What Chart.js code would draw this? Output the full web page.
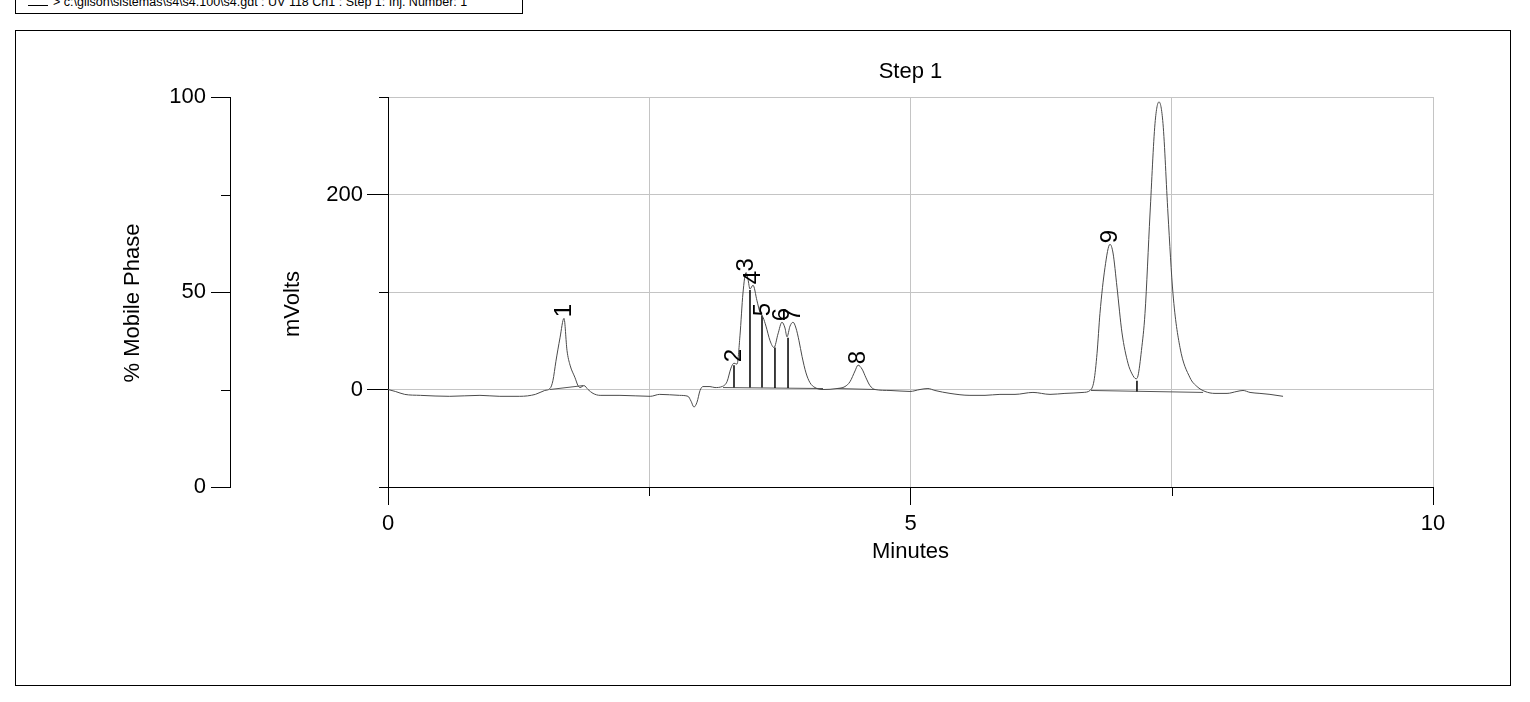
<!DOCTYPE html>
<html><head><meta charset="utf-8">
<script src="https://cdn.jsdelivr.net/npm/chart.js@4.4.0/dist/chart.umd.min.js"></script>
<style>
html,body{margin:0;padding:0;background:#fff;width:1530px;height:702px;overflow:hidden;font-family:'Liberation Sans',Arial,sans-serif;}
#frame{position:absolute;left:15px;top:30px;width:1494px;height:654px;border:1px solid #000;}
#legend{position:absolute;left:15px;top:-10px;width:506px;height:22px;border:1px solid #000;}
#legline{position:absolute;left:28px;top:5px;width:20px;height:0;border-top:1px solid #000;}
#legtext{position:absolute;left:53px;top:-5px;font-size:12.5px;line-height:14px;white-space:nowrap;color:#000;}
#c{position:absolute;left:0;top:0;}
</style></head>
<body>
<div id="frame"></div>
<div id="legend"></div>
<div id="legline"></div>
<div id="legtext">&gt; c:\gilson\sistemas\s4\s4.100\s4.gdt : UV 118 Ch1 : Step 1: Inj. Number: 1</div>
<canvas id="c" width="1530" height="702"></canvas>
<script>
// ---- data ----
const times = [0,0.07,0.16,0.31,0.59,0.88,1.07,1.26,1.41,1.50,1.55,1.578,1.607,1.646,1.684,1.713,1.742,1.790,1.818,1.837,1.876,1.914,1.962,2.03,2.22,2.51,2.60,2.79,2.871,2.90,2.928,2.957,2.986,3.014,3.081,3.129,3.196,3.244,3.282,3.311,3.340,3.368,3.397,3.426,3.445,3.464,3.493,3.531,3.560,3.589,3.617,3.656,3.694,3.732,3.770,3.799,3.818,3.847,3.876,3.904,3.933,3.962,4.000,4.038,4.086,4.163,4.297,4.373,4.421,4.469,4.498,4.536,4.574,4.612,4.660,4.804,4.995,5.091,5.167,5.234,5.378,5.569,5.713,5.856,6.000,6.172,6.335,6.478,6.651,6.718,6.756,6.785,6.813,6.861,6.909,6.938,6.976,7.024,7.081,7.120,7.158,7.177,7.21,7.244,7.292,7.340,7.378,7.416,7.464,7.512,7.579,7.675,7.742,7.818,7.914,8.029,8.124,8.182,8.249,8.344,8.440,8.565];
const mvolts = [0,-2,-5,-6,-7,-6,-7,-7,-5,-1,1,9,29,53,73,40,25,12,4,2,4,0,-4,-6,-6,-7,-5,-6,-7,-12,-18,-13,-1,3,3,2,3,8,22,27,26,55,99,120,113,103,107,91,79,74,65,50,43,57,69,63,54,65,69,63,50,34,17,7,2,0,1,3,8,19,25,21,12,4,0,-1,-2,0,1,-1,-4,-6,-6,-5,-5,-3,-5,-4,-3,-1,9,37,78,125,149,140,105,58,27,16,11,14,40,78,180,273,295,273,180,98,43,12,3,-2,-4,-4,-2,-1,-3,-4,-5,-7];

const peakNames = ['1','2','3','4','5','6','7','8','9'];
const peakTimes = [1.684,3.311,3.426,3.493,3.589,3.770,3.876,4.498,6.909];
const peakHeights = [73,27,120,107,74,69,69,25,149];

const dropTimes = [3.311,3.464,3.579,3.703,3.828,7.167];
const dropTops  = [25,102,76,43,53,9];
const dropBases = [2,2,2,1.5,1.5,-2];

const baseStartT = [1.55,3.206,4.297,6.727];
const baseStartV = [0,2,1,-1];
const baseEndT   = [1.866,4.163,4.66,7.80];
const baseEndV   = [4,1,0,-3];

const xLabeled = [0,5,10];
const mvLabeled = [0,200];
const phaseLabeled = [0,50,100];
const xMinor = [2.5,7.5];
const mvMinor = [-100,100,300];
const phaseMinor = [25,75];

// ---- build datasets ----
const FONT = "'Liberation Sans', Arial, sans-serif";
const trace = times.map((t,i)=>({x:t,y:mvolts[i]}));
const drops = [];
dropTimes.forEach((t,i)=>{ drops.push({x:t,y:dropBases[i]},{x:t,y:dropTops[i]},{x:t,y:null}); });
const bases = [];
baseStartT.forEach((t,i)=>{ bases.push({x:t,y:baseStartV[i]},{x:baseEndT[i],y:baseEndV[i]},{x:baseEndT[i],y:null}); });

const tickCol = list => c => (c.tick && list.includes(c.tick.value)) ? '#000' : 'rgba(0,0,0,0)';
const labelCb = list => v => list.includes(v) ? String(v) : '';

const decor = {
  id:'decor',
  afterDraw(chart){
    const {ctx, chartArea, scales} = chart;
    const x = scales.x, y = scales.y, y2 = scales.y2;
    ctx.save();
    // short minor tick marks
    ctx.strokeStyle = '#000'; ctx.lineWidth = 1;
    ctx.beginPath();
    xMinor.forEach(v=>{ const p = Math.round(x.getPixelForValue(v))+0.5; ctx.moveTo(p, x.top); ctx.lineTo(p, x.top+9); });
    mvMinor.forEach(v=>{ const p = Math.round(y.getPixelForValue(v))+0.5; ctx.moveTo(y.right-9, p); ctx.lineTo(y.right, p); });
    phaseMinor.forEach(v=>{ const p = Math.round(y2.getPixelForValue(v))+0.5; ctx.moveTo(y2.right-9, p); ctx.lineTo(y2.right, p); });
    ctx.stroke();
    // peak labels
    ctx.fillStyle = '#000';
    ctx.font = '24px ' + FONT;
    ctx.textAlign = 'left'; ctx.textBaseline = 'middle';
    peakNames.forEach((n,i)=>{
      const px = x.getPixelForValue(peakTimes[i]);
      const py = y.getPixelForValue(peakHeights[i]);
      ctx.save(); ctx.translate(px, py-1); ctx.rotate(-Math.PI/2); ctx.fillText(n,0,0); ctx.restore();
    });
    // vertical axis titles
    const midY = (chartArea.top + chartArea.bottom)/2;
    ctx.font = '22px ' + FONT;
    ctx.textAlign = 'center';
    ctx.save(); ctx.translate(y.left+63, midY+12); ctx.rotate(-Math.PI/2); ctx.fillText('mVolts',0,0); ctx.restore();
    ctx.save(); ctx.translate(y2.left+33, midY+11); ctx.rotate(-Math.PI/2); ctx.fillText('% Mobile Phase',0,0); ctx.restore();
    ctx.restore();
  }
};

new Chart(document.getElementById('c'), {
  type:'line',
  data:{datasets:[
    {data:trace, borderColor:'#4a4a4a', borderWidth:1, pointRadius:0, cubicInterpolationMode:'monotone', tension:0.4},
    {data:drops, borderColor:'#000', borderWidth:1.5, pointRadius:0, tension:0, spanGaps:false},
    {data:bases, borderColor:'#555', borderWidth:1, pointRadius:0, tension:0, spanGaps:false}
  ]},
  options:{
    responsive:false, animation:false, devicePixelRatio:1, parsing:true,
    layout:{padding:{left:100,right:97,top:0,bottom:135}},
    plugins:{
      legend:{display:false}, tooltip:{enabled:false},
      title:{display:true, text:'Step 1', fullSize:false, color:'#000', font:{family:FONT,size:22,weight:'normal'}, padding:{top:59,bottom:11.6}}
    },
    scales:{
      x:{type:'linear', position:'bottom', min:0, max:10,
        ticks:{stepSize:2.5, autoSkip:false, maxRotation:0, padding:6, color:'#000', font:{family:FONT,size:22}, callback:labelCb(xLabeled)},
        grid:{color:'#c4c4c4', lineWidth:1, tickLength:18, tickColor:tickCol(xLabeled)},
        border:{color:'#000', width:1},
        title:{display:true, text:'Minutes', color:'#000', font:{family:FONT,size:22}, padding:{top:0,bottom:1.8}},
        afterFit(s){ s.height = 80; }
      },
      y:{type:'linear', position:'left', weight:0, min:-100, max:300,
        ticks:{stepSize:100, padding:4, color:'#000', font:{family:FONT,size:22}, callback:labelCb(mvLabeled)},
        grid:{color:'#c4c4c4', lineWidth:1, tickLength:21, tickColor:tickCol(mvLabeled)},
        border:{color:'#000', width:1},
        afterFit(s){ s.width = 158; }
      },
      y2:{type:'linear', position:'left', weight:10, min:0, max:100,
        ticks:{stepSize:25, padding:5, color:'#000', font:{family:FONT,size:22}, callback:labelCb(phaseLabeled)},
        grid:{drawOnChartArea:false, lineWidth:1, tickLength:19, tickColor:tickCol(phaseLabeled)},
        border:{color:'#000', width:1},
        afterFit(s){ s.width = 130; }
      }
    }
  },
  plugins:[decor]
});
</script>
</body></html>
